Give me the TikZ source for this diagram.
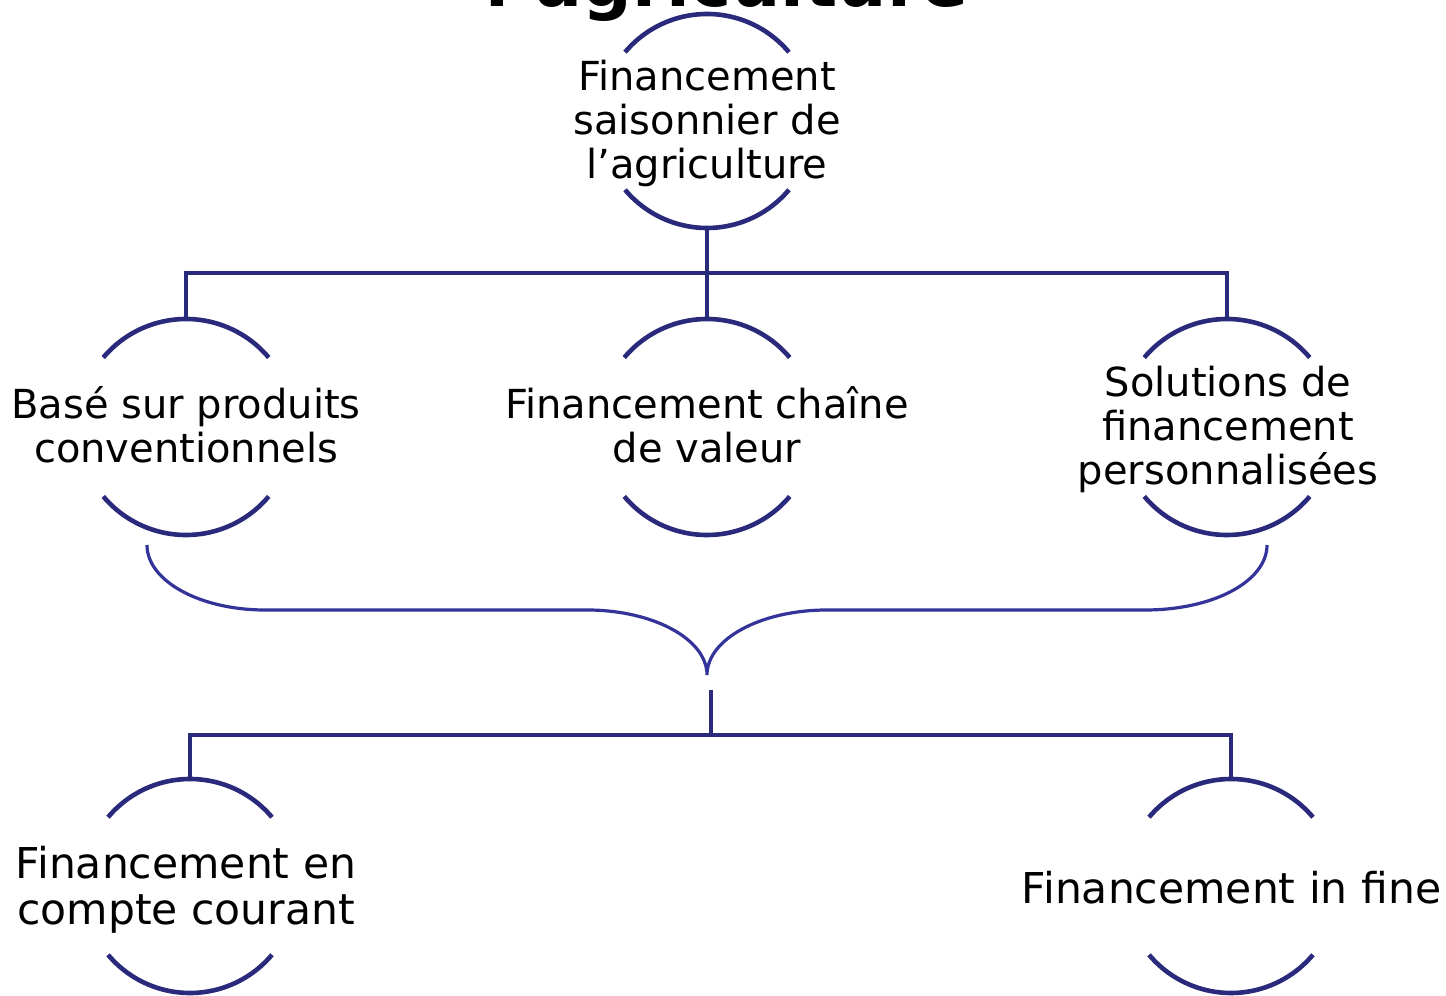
\documentclass[tikz,border=0pt]{standalone}
\usepackage{fontspec}
\setmainfont{DejaVu Sans}
\definecolor{navy}{RGB}{42,42,124}
\definecolor{bracecol}{RGB}{51,51,153}
\tikzset{
  ringarc/.style={draw=navy, line width=4.6pt},
  treeline/.style={draw=navy, line width=4.8pt},
  bracket/.style={draw=bracecol, line width=3.2pt},
  holder/.style={circle, draw=none, inner sep=0pt, outer sep=0pt},
  lbl/.style={inner sep=0pt, align=center, font=\fontsize{40}{44}\selectfont},
  lblbig/.style={inner sep=0pt, align=center, font=\fontsize{42.5}{46}\selectfont},
}
\newcommand\ringpair[2]{%
  \draw[ringarc] (#1.40) arc[start angle=40,end angle=140,radius=#2];
  \draw[ringarc] (#1.220) arc[start angle=220,end angle=320,radius=#2];}
\begin{document}
\begin{tikzpicture}[x=1pt,y=1pt]
\useasboundingbox (0,0) rectangle (1446,996);
\clip (0,0) rectangle (1446,996);

% title (clipped at top, as in the reference)
\node[anchor=base west, inner sep=0pt, font=\fontsize{69.5}{80}\selectfont\bfseries] (title) at (485,989) {l’agriculture};

% circle holders
\node[holder, minimum size=214pt] (ctop) at (707,875) {};
\node[holder, minimum size=216pt] (cb1) at (186,569) {};
\node[holder, minimum size=216pt] (cb2) at (707,569) {};
\node[holder, minimum size=216pt] (cb3) at (1227,569) {};
\node[holder, minimum size=214pt] (cc1) at (190,110) {};
\node[holder, minimum size=214pt] (cc2) at (1231,110) {};

\ringpair{ctop}{107pt}
\ringpair{cb1}{108pt}
\ringpair{cb2}{108pt}
\ringpair{cb3}{108pt}
\ringpair{cc1}{107pt}
\ringpair{cc2}{107pt}

% labels
\node[lbl] (ltop) at (707,869.8) {\strut Financement\\saisonnier de\\l’agriculture\strut};
\node[lbl] (lb1) at (186,564.8) {\strut Basé sur produits\\conventionnels\strut};
\node[lbl] (lb2) at (707,564.8) {\strut Financement chaîne\\de valeur\strut};
\node[lbl] (lb3) at (1228,564) {\strut Solutions de\\financement\\personnalisées\strut};
\node[lblbig] (lc1) at (186,104.2) {\strut Financement en\\compte courant\strut};
\node[lblbig] (lc2) at (1231.5,102.2) {\strut Financement in fine};

% upper tree
\coordinate (j1) at (707,723);
\draw[treeline] (ctop.south) -- (j1);
\draw[treeline] (cb1.north) |- (j1) -| (cb3.north);
\draw[treeline] (j1) -- (cb2.north);

% brace
\draw[bracket] (147,451) .. controls (147,415) and (200,386) .. (265,386)
  -- (587,386) .. controls (653,386) and (707,357) .. (707,321)
  .. controls (707,357) and (761,386) .. (827,386)
  -- (1145,386) .. controls (1214,386) and (1267,415) .. (1267,451);

% lower tree
\coordinate (stub) at (711,306);
\coordinate (j2) at (711,261);
\draw[treeline] (stub) -- (j2);
\draw[treeline] (cc1.north) |- (j2) -| (cc2.north);
\end{tikzpicture}
\end{document}
